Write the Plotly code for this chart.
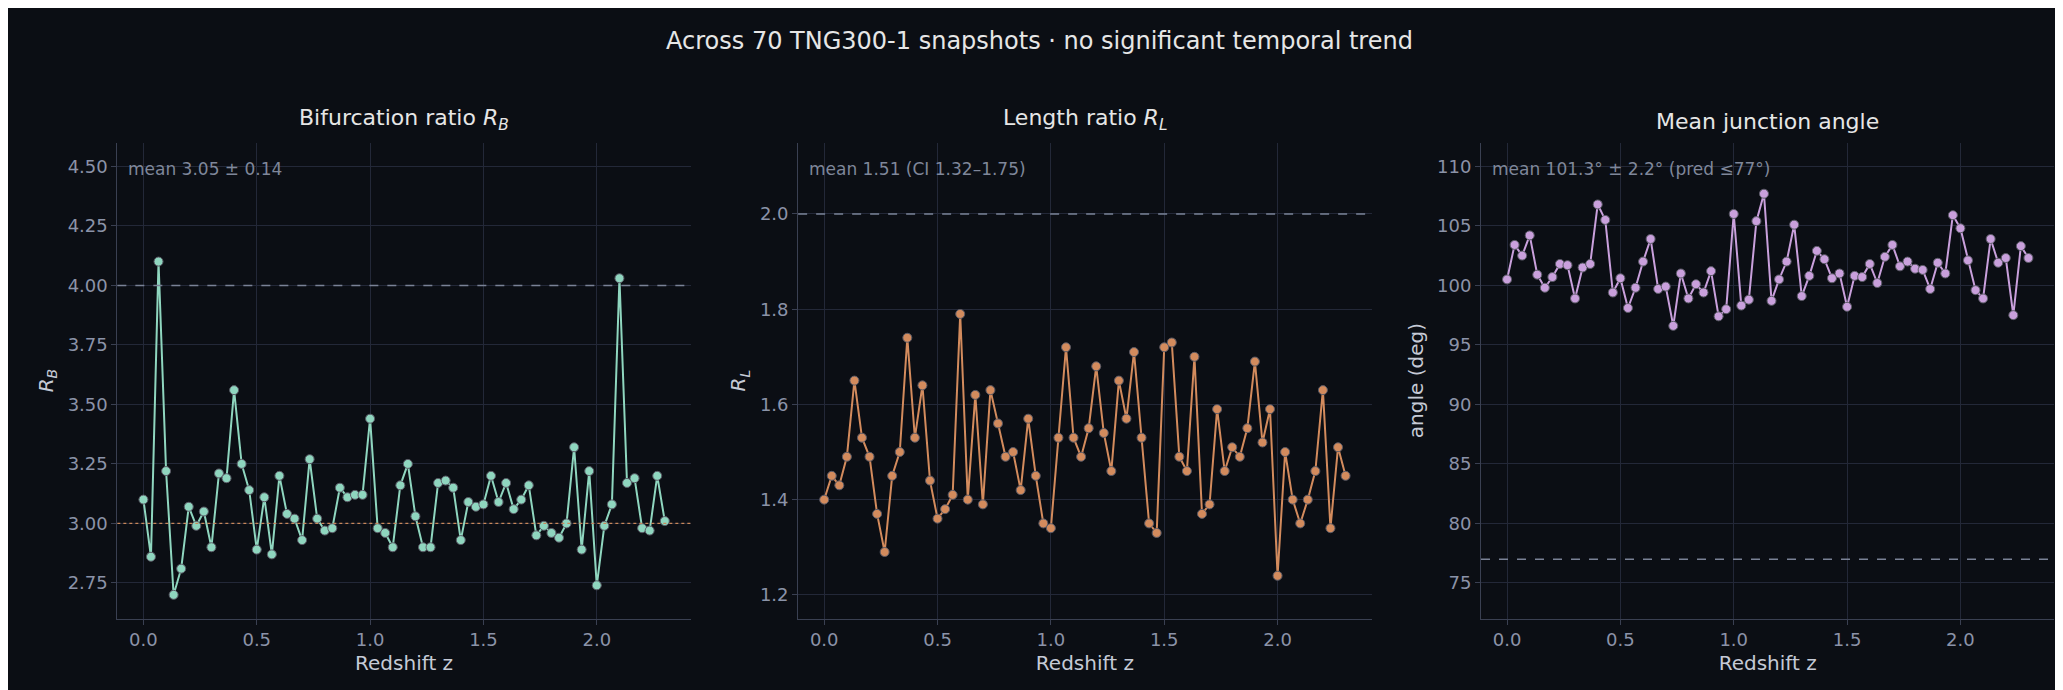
import plotly.graph_objects as go

n_snap = 70
z_max = 2.3
redshift = [i * z_max / (n_snap - 1) for i in range(n_snap)]

r_b = [3.10, 2.86, 4.10, 3.22, 2.70, 2.81, 3.07, 2.99, 3.05, 2.90,
       3.21, 3.19, 3.56, 3.25, 3.14, 2.89, 3.11, 2.87, 3.20, 3.04,
       3.02, 2.93, 3.27, 3.02, 2.97, 2.98, 3.15, 3.11, 3.12, 3.12,
       3.44, 2.98, 2.96, 2.90, 3.16, 3.25, 3.03, 2.90, 2.90, 3.17,
       3.18, 3.15, 2.93, 3.09, 3.07, 3.08, 3.20, 3.09, 3.17, 3.06,
       3.10, 3.16, 2.95, 2.99, 2.96, 2.94, 3.00, 3.32, 2.89, 3.22,
       2.74, 2.99, 3.08, 4.03, 3.17, 3.19, 2.98, 2.97, 3.20, 3.01]
r_l = [1.40, 1.45, 1.43, 1.49, 1.65, 1.53, 1.49, 1.37, 1.29, 1.45,
       1.50, 1.74, 1.53, 1.64, 1.44, 1.36, 1.38, 1.41, 1.79, 1.40,
       1.62, 1.39, 1.63, 1.56, 1.49, 1.50, 1.42, 1.57, 1.45, 1.35,
       1.34, 1.53, 1.72, 1.53, 1.49, 1.55, 1.68, 1.54, 1.46, 1.65,
       1.57, 1.71, 1.53, 1.35, 1.33, 1.72, 1.73, 1.49, 1.46, 1.70,
       1.37, 1.39, 1.59, 1.46, 1.51, 1.49, 1.55, 1.69, 1.52, 1.59,
       1.24, 1.50, 1.40, 1.35, 1.40, 1.46, 1.63, 1.34, 1.51, 1.45]
angle = [100.5, 103.4, 102.5, 104.2, 100.9, 99.8, 100.7, 101.8, 101.7, 98.9,
         101.5, 101.8, 106.8, 105.5, 99.4, 100.6, 98.1, 99.8, 102.0, 103.9,
         99.7, 99.9, 96.6, 101.0, 98.9, 100.1, 99.4, 101.2, 97.4, 98.0,
         106.0, 98.3, 98.8, 105.4, 107.7, 98.7, 100.5, 102.0, 105.1, 99.1,
         100.8, 102.9, 102.2, 100.6, 101.0, 98.2, 100.8, 100.7, 101.8, 100.2,
         102.4, 103.4, 101.6, 102.0, 101.4, 101.3, 99.7, 101.9, 101.0, 105.9,
         104.8, 102.1, 99.6, 98.9, 103.9, 101.9, 102.3, 97.5, 103.3, 102.3]

bg = "#0b0e14"
grid = "#232838"
tick_col = "#8b93a8"
label_col = "#c5cad6"

panels = [
    dict(y=r_b, color="#8fd6bf", title="Bifurcation ratio <i>R<sub>B</sub></i>",
         ylab="<i>R<sub>B</sub></i>", yr=[2.6, 4.6], dt=0.25, fmt=".2f",
         ref=4.0, note="mean 3.05 ± 0.14", dom=[0.053, 0.331]),
    dict(y=r_l, color="#d38b5d", title="Length ratio <i>R<sub>L</sub></i>",
         ylab="<i>R<sub>L</sub></i>", yr=[1.15, 2.15], dt=0.2, fmt=".1f",
         ref=2.0, note="mean 1.51 (CI 1.32–1.75)", dom=[0.383, 0.661]),
    dict(y=angle, color="#c9a0dc", title="Mean junction angle",
         ylab="angle (deg)", yr=[72, 112], dt=5, fmt="d",
         ref=77, note="mean 101.3° ± 2.2° (pred ≤77°)", dom=[0.714, 0.992]),
]

fig = go.Figure()
for i, p in enumerate(panels, start=1):
    xa = "x" if i == 1 else f"x{i}"
    ya = "y" if i == 1 else f"y{i}"
    fig.add_trace(go.Scatter(
        x=redshift, y=p["y"], mode="lines+markers", xaxis=xa, yaxis=ya,
        line=dict(color=p["color"], width=2),
        marker=dict(size=9, color=p["color"], line=dict(color="#5a5a66", width=1)),
        showlegend=False))
    fig.add_shape(type="line", xref=f"{xa} domain", yref=ya, x0=0, x1=1,
                  y0=p["ref"], y1=p["ref"], line=dict(color="#7a8296", width=1.5, dash="dash"))
    if i == 1:
        fig.add_shape(type="line", xref=f"{xa} domain", yref=ya, x0=0, x1=1,
                      y0=3.0, y1=3.0, line=dict(color="#c8875a", width=1.2, dash="dot"))
    fig.add_annotation(xref=f"{xa} domain", yref=f"{ya} domain", x=0.015, y=0.97,
                       text=p["note"], showarrow=False, xanchor="left", yanchor="top",
                       font=dict(size=17, color="#7f879a"))
    fig.add_annotation(xref=f"{xa} domain", yref="paper", x=0.5, y=0.815,
                       text=p["title"], showarrow=False, yanchor="bottom",
                       font=dict(size=22, color="#e6e6e6"))
    axis_common = dict(showgrid=True, gridcolor=grid, zeroline=False, showline=True,
                       linecolor="#3a4052", ticks="outside", tickcolor="#3a4052",
                       tickfont=dict(size=18, color=tick_col))
    fig.layout[f"xaxis{'' if i == 1 else i}"] = dict(
        axis_common, domain=p["dom"], range=[-0.115, 2.415], dtick=0.5, tickformat=".1f",
        anchor=ya, title=dict(text="Redshift z", font=dict(size=20, color=label_col), standoff=6))
    fig.layout[f"yaxis{'' if i == 1 else i}"] = dict(
        axis_common, domain=[0.115, 0.805], range=p["yr"], dtick=p["dt"], tickformat=p["fmt"],
        anchor=xa, title=dict(text=p["ylab"], font=dict(size=20, color=label_col), standoff=8))

fig.update_layout(
    width=2063, height=690, paper_bgcolor=bg, plot_bgcolor=bg,
    font=dict(family="DejaVu Sans", color=label_col),
    margin=dict(l=0, r=0, t=0, b=0),
    title=dict(text="Across 70 TNG300-1 snapshots · no significant temporal trend",
               x=0.5, y=0.965, xanchor="center", font=dict(size=24, color="#e6e6e6")),
)

fig.write_html("out.html")
